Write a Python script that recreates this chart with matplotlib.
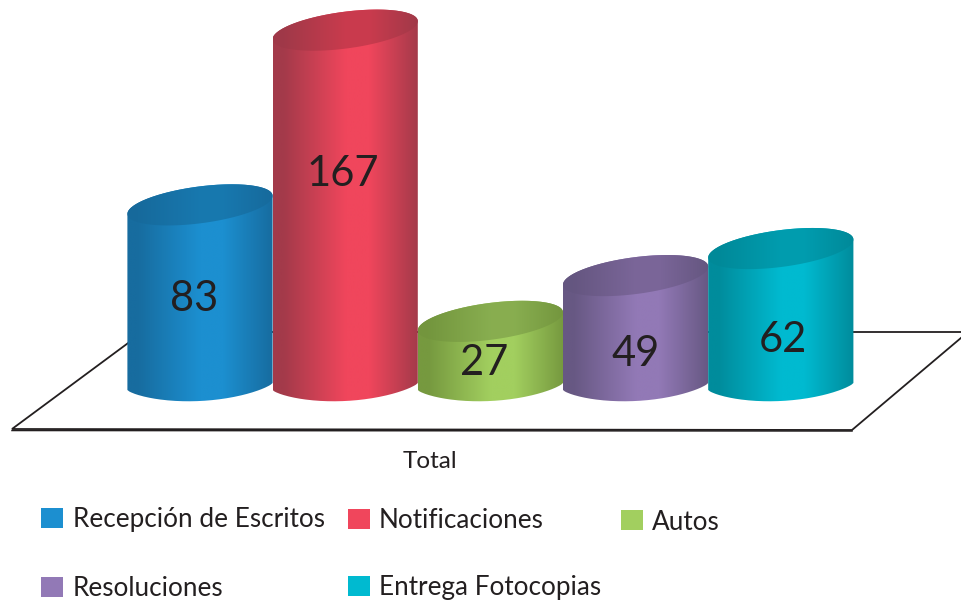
import numpy as np
import matplotlib
matplotlib.use("Agg")
import matplotlib.pyplot as plt
from matplotlib.colors import LinearSegmentedColormap, to_rgb
from matplotlib.patches import PathPatch, Rectangle
from matplotlib.path import Path

plt.rcParams["font.family"] = ["Lato", "DejaVu Sans"]

categories = ["Recepción de Escritos", "Notificaciones", "Autos", "Resoluciones", "Entrega Fotocopias"]
values = [83, 167, 27, 49, 62]
axis_label = "Total"

bright = ["#1c8fd0", "#f0465c", "#a2cf5f", "#9279b6", "#00bad0"]
edge = ["#176c9f", "#a33a4a", "#76993f", "#675883", "#008c9c"]

W, H = 962, 605
CENTER0, STEP = 200.0, 145.2       # pixel x of first bar, bar pitch
BASE_PX, PX_PER_UNIT = 377.5, 2.08  # pixel y of value 0, pixels per value unit
LABEL_X_PX = [194, 343, 484, 636, 783]  # pixel x of the value labels
LABEL_PX = [299, 174, 363, 354, 340]    # pixel y of the value labels
LEGEND_PX = [(41, 518), (348, 519), (621, 520), (41, 587), (348, 586)]
LEGEND_TEXT_X = [73, 379, 652, 73, 379]

fig = plt.figure(figsize=(W / 100, H / 100), dpi=100)

# pixel-coordinate layer: floor, axis title, legend
bg = fig.add_axes([0, 0, 1, 1])
bg.set_xlim(0, W)
bg.set_ylim(H, 0)
bg.axis("off")
floor_x = [143, 968, 852, 12, 143]
floor_y = [332, 332, 430, 429, 332]
bg.plot(floor_x, floor_y, color="#231f20", lw=1.3, solid_joinstyle="miter")
bg.plot([12, 852], [430.5, 431], color="#231f20", lw=1.1)
bg.text(430, 461, axis_label, ha="center", va="center", fontsize=17.5, color="#231f20")

for (x, y), tx, name, col in zip(LEGEND_PX, LEGEND_TEXT_X, categories, bright):
    bg.add_patch(Rectangle((x, y - 10), 22, 20, color=col, lw=0))
    bg.text(tx, y + 2, name, ha="left", va="center", fontsize=18.8, color="#231f20")

# data layer: one unit in x is one category, y is the value
ax = fig.add_axes([0, 0, 1, 1])
ax.patch.set_alpha(0)
ax.axis("off")

TOP_B, TOP_TILT = 18.5 / PX_PER_UNIT, 9 / PX_PER_UNIT
BOT_Y, BOT_D, BOT_TILT = -9 / PX_PER_UNIT, 14.5 / PX_PER_UNIT, 3.5 / PX_PER_UNIT


def ellipse(cx, cy, b, tilt, t):
    return cx + 0.5 * np.cos(t), cy + tilt * np.cos(t) + b * np.sin(t)


def gradient(cx, lo, hi, path, c_edge, c_mid):
    stops = [(0, c_edge), (0.07, c_edge), (0.5, c_mid), (0.66, c_mid), (1, c_edge)]
    cmap = LinearSegmentedColormap.from_list("bar", stops)
    im = ax.imshow(np.linspace(0, 1, 256).reshape(1, -1), cmap=cmap, aspect="auto",
                   extent=[cx - 0.5, cx + 0.5, lo, hi], interpolation="bilinear")
    patch = PathPatch(path, transform=ax.transData, fc="none", ec="none")
    ax.add_patch(patch)
    im.set_clip_path(patch)


def scale(color, f):
    return tuple(c * f for c in to_rgb(color))


for i, v in enumerate(values):
    # body outline: upper half of the cap, then a shallow arc along the floor
    t_top = np.linspace(0, np.pi, 60)
    xt, yt = ellipse(i, v, TOP_B, TOP_TILT, t_top)
    u = np.linspace(-1, 1, 80)
    xb = i + 0.5 * u
    yb = BOT_Y + BOT_TILT * u - BOT_D * (1 - u ** 2) ** 0.75
    body = Path(np.column_stack([np.r_[xt, xb], np.r_[yt, yb]]))
    gradient(i, BOT_Y - BOT_D - 4, v + TOP_B + 6, body, edge[i], bright[i])

    t = np.linspace(0, 2 * np.pi, 120)
    xe, ye = ellipse(i, v, TOP_B, TOP_TILT, t)
    cap = Path(np.column_stack([xe, ye]))
    gradient(i, v - TOP_B - 6, v + TOP_B + 6, cap, scale(edge[i], 0.98), scale(bright[i], 0.84))

    ax.text((LABEL_X_PX[i] - CENTER0) / STEP, (BASE_PX - LABEL_PX[i]) / PX_PER_UNIT, str(v),
            ha="center", va="center", fontsize=30, color="#231f20", zorder=5)

ax.set_xlim(-CENTER0 / STEP, (W - CENTER0) / STEP)
ax.set_ylim((BASE_PX - H) / PX_PER_UNIT, BASE_PX / PX_PER_UNIT)

fig.savefig("out.png", dpi=100)
